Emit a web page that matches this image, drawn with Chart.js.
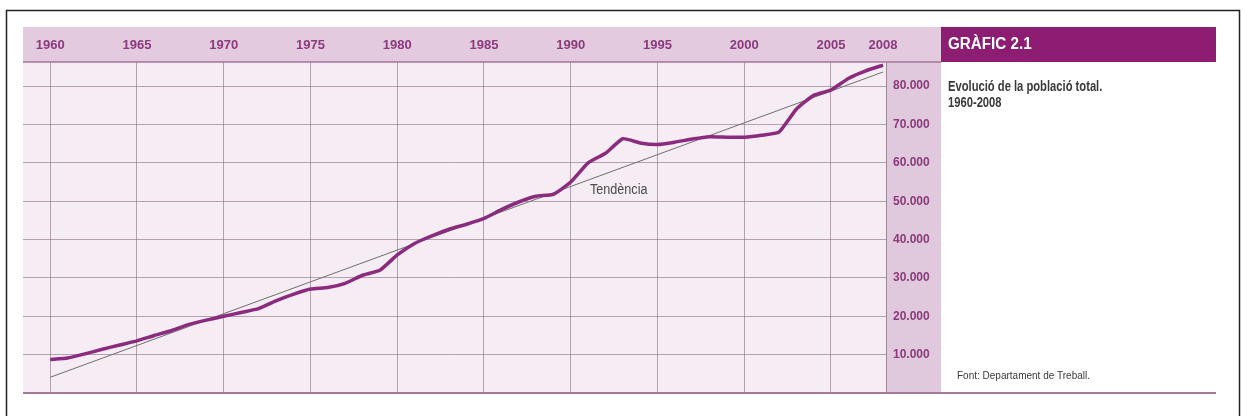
<!DOCTYPE html>
<html>
<head>
<meta charset="utf-8">
<script src="https://cdn.jsdelivr.net/npm/chart.js@4.4.1/dist/chart.umd.min.js"></script>
<style>
  html, body { margin: 0; padding: 0; background: #fff; }
  #wrap { width: 1243px; height: 416px; }
</style>
</head>
<body>
<div id="wrap"><canvas id="myChart" width="1243" height="416"></canvas></div>
<script>
const years = [1960, 1961, 1962, 1963, 1964, 1965, 1966, 1967, 1968, 1969,
  1970, 1971, 1972, 1973, 1974, 1975, 1976, 1977, 1978, 1979,
  1980, 1981, 1982, 1983, 1984, 1985, 1986, 1987, 1988, 1989,
  1990, 1991, 1992, 1993, 1994, 1995, 1996, 1997, 1998, 1999,
  2000, 2001, 2002, 2003, 2004, 2005, 2006, 2007, 2008];
const population = [8700, 9100, 10200, 11400, 12500, 13600, 15000, 16300, 17900, 19000,
  20000, 21000, 22000, 24000, 25700, 27100, 27500, 28600, 30700, 32000,
  36000, 39000, 41000, 42700, 44000, 45500, 47800, 49800, 51300, 51800,
  55000, 60000, 62500, 66300, 65200, 64800, 65400, 66200, 66800, 66700,
  66700, 67200, 68000, 74000, 77600, 79000, 82000, 84000, 85500];

// trend line endpoints
const trendYears = [1960, 2008];
const trendValues = [4100, 83700];

const xTickValues = [1960, 1965, 1970, 1975, 1980, 1985, 1990, 1995, 2000, 2005, 2008];
const yTickValues = [10000, 20000, 30000, 40000, 50000, 60000, 70000, 80000];
const yTickLabels = ['10.000', '20.000', '30.000', '40.000', '50.000', '60.000', '70.000', '80.000'];

const sans = '"Liberation Sans", Arial, sans-serif';

// draw text squeezed horizontally (the original uses a condensed face)
function narrowText(c, txt, x, y, sx) {
  c.save();
  c.translate(x, y);
  c.scale(sx, 1);
  c.fillText(txt, 0, 0);
  c.restore();
}

const decor = {
  id: 'decor',
  beforeDraw(chart) {
    const c = chart.ctx;
    const a = chart.chartArea;
    c.save();
    c.fillStyle = '#f6ecf4';
    c.fillRect(a.left, a.top, a.right - a.left, a.bottom - a.top);
    c.fillStyle = '#e0c9dc';
    c.fillRect(a.right, a.top, 55, a.bottom - a.top);
    c.fillStyle = '#e3cade';
    c.fillRect(a.left, 27, a.right + 55 - a.left, a.top - 27);
    c.fillStyle = '#8c1d72';
    c.fillRect(a.right + 55, 27, 1216 - a.right - 55, a.top - 27);
    c.restore();
  },
  afterDraw(chart) {
    const c = chart.ctx;
    const a = chart.chartArea;
    c.save();
    c.strokeStyle = '#a4759b';
    c.lineWidth = 1.5;
    c.beginPath();
    c.moveTo(a.left, a.top); c.lineTo(a.right + 55, a.top);
    c.stroke();
    c.strokeStyle = '#9c8797';
    c.lineWidth = 1;
    c.beginPath();
    c.moveTo(a.right + 0.5, a.top); c.lineTo(a.right + 0.5, a.bottom);
    c.stroke();
    c.strokeStyle = '#a27a9a';
    c.lineWidth = 2;
    c.beginPath();
    c.moveTo(a.left, a.bottom); c.lineTo(1216, a.bottom);
    c.stroke();
    c.strokeStyle = '#222';
    c.lineWidth = 1.5;
    c.strokeRect(6.5, 10.5, 1233, 430);

    c.textBaseline = 'middle';
    c.fillStyle = '#ffffff';
    c.font = 'bold 16px ' + sans;
    narrowText(c, 'GRÀFIC 2.1', 948, 45, 0.95);
    c.fillStyle = '#3a3a3a';
    c.font = 'bold 14px ' + sans;
    narrowText(c, 'Evolució de la població total.', 948, 87, 0.8);
    narrowText(c, '1960-2008', 948, 103, 0.8);
    c.font = '10px ' + sans;
    narrowText(c, 'Font: Departament de Treball.', 957, 376, 1.0);
    c.fillStyle = '#4a4a4a';
    c.font = '14px ' + sans;
    narrowText(c, 'Tendència', 590, 190, 0.9);
    c.restore();
  }
};

const ctx = document.getElementById('myChart').getContext('2d');

const myChart = new Chart(ctx, {
  type: 'line',
  data: {
    datasets: [{
      label: 'Població',
      data: years.map((y, i) => ({ x: y, y: population[i] })),
      borderColor: '#8b2b7e',
      borderWidth: 3.5,
      pointRadius: 0,
      tension: 0.15,
      order: 1
    }, {
      label: 'Tendència',
      data: trendYears.map((y, i) => ({ x: y, y: trendValues[i] })),
      borderColor: '#6f6f6f',
      borderWidth: 1,
      pointRadius: 0,
      order: 2
    }]
  },
  options: {
    responsive: false,
    animation: false,
    layout: {
      padding: { left: 23, right: 302, top: 27, bottom: 23 }
    },
    scales: {
      x: {
        type: 'linear',
        position: 'top',
        min: 1958.43,
        max: 2008.17,
        afterBuildTicks: (scale) => { scale.ticks = xTickValues.map(v => ({ value: v })); },
        afterFit: (scale) => { scale.height = 35; },
        border: { display: false },
        grid: {
          drawTicks: false,
          color: (c) => (c.tick && c.tick.value === 2008) ? 'rgba(0,0,0,0)' : 'rgba(125,100,120,0.55)',
          lineWidth: 1
        },
        ticks: {
          padding: 9,
          maxRotation: 0,
          autoSkip: false,
          color: '#8b3a7c',
          font: { family: sans, size: 13, weight: 'bold' },
          callback: (v) => String(v)
        }
      },
      y: {
        position: 'right',
        min: 0,
        max: 86300,
        afterBuildTicks: (scale) => { scale.ticks = yTickValues.map(v => ({ value: v })); },
        afterFit: (scale) => { scale.width = 55; },
        border: { display: false },
        grid: {
          drawTicks: false,
          color: 'rgba(125,100,120,0.55)',
          lineWidth: 1
        },
        ticks: {
          padding: 7,
          color: '#8b3a7c',
          font: { family: sans, size: 12, weight: 'bold' },
          callback: (v) => yTickLabels[yTickValues.indexOf(v)]
        }
      }
    },
    plugins: {
      legend: { display: false },
      tooltip: { enabled: false }
    }
  },
  plugins: [decor]
});
</script>
</body>
</html>
